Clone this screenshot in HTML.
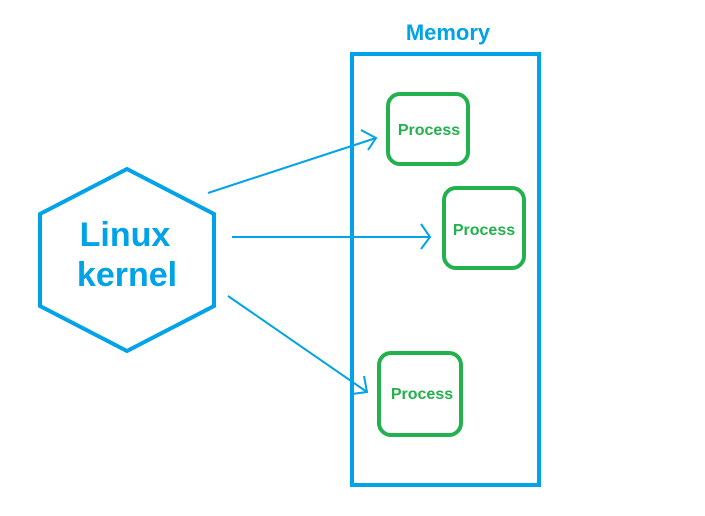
<!DOCTYPE html>
<html><head><style>body{margin:0;background:#fff}</style></head><body>
<svg width="705" height="516" xmlns="http://www.w3.org/2000/svg" style="display:block">
<rect width="705" height="516" fill="#fff"/>
<text x="448" y="40" font-family="Liberation Sans, sans-serif" font-weight="bold" font-size="22" fill="#00a2e8" text-anchor="middle">Memory</text>
<rect x="352" y="54" width="187" height="431" fill="none" stroke="#00a2e8" stroke-width="4"/>
<polygon points="127,169 214,214 214,306 127,351 40,306 40,214" fill="none" stroke="#00a2e8" stroke-width="4"/>
<text x="125" y="246" font-family="Liberation Sans, sans-serif" font-weight="bold" font-size="34" fill="#00a2e8" text-anchor="middle">Linux</text>
<text x="127" y="286" font-family="Liberation Sans, sans-serif" font-weight="bold" font-size="34" fill="#00a2e8" text-anchor="middle">kernel</text>
<g fill="none" stroke="#22b14c" stroke-width="4">
<rect x="388" y="94" width="80" height="70" rx="12"/>
<rect x="444" y="188" width="80" height="80" rx="12"/>
<rect x="379" y="353" width="82" height="82" rx="12"/>
</g>
<g font-family="Liberation Sans, sans-serif" font-weight="bold" font-size="16" fill="#22b14c" text-anchor="middle">
<text x="429" y="135">Process</text>
<text x="484" y="235">Process</text>
<text x="422" y="399">Process</text>
</g>
<g stroke="#00a2e8" stroke-width="2" fill="none">
<line x1="208" y1="193" x2="376" y2="138"/>
<polyline points="361,130 376,138 368,150"/>
<line x1="232" y1="237" x2="430" y2="237"/>
<polyline points="421,224 430,237 421,249"/>
<line x1="228" y1="296" x2="367" y2="392"/>
<polyline points="364,376 367,392 352,394"/>
</g>
</svg>
</body></html>
